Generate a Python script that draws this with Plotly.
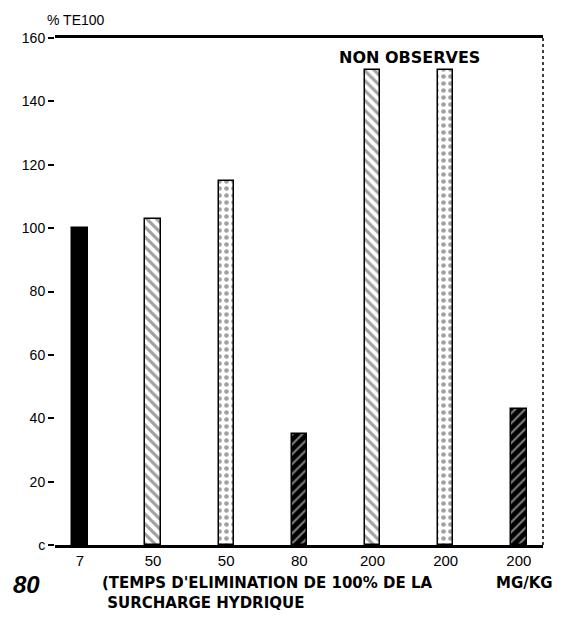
import plotly.graph_objects as go

# Data
categories = ["7", "50", "50", "80", "200", "200", "200"]
values = [100, 103, 115, 35, 150, 150, 43]
pattern_shapes = ["", "\\", ".", "/", "\\", ".", "/"]
fill_colors = ["black", "white", "white", "black", "white", "white", "black"]
pattern_fg = ["black", "black", "black", "white", "black", "black", "white"]
pattern_solidity = [0.5, 0.45, 0.35, 0.3, 0.45, 0.35, 0.3]
y_ticks = [0, 20, 40, 60, 80, 100, 120, 140, 160]
y_ticklabels = ["c", "20", "40", "60", "80", "100", "120", "140", "160"]

x_pos = list(range(len(categories)))

fig = go.Figure()
fig.add_trace(go.Bar(
    x=x_pos,
    y=values,
    width=0.21,
    marker=dict(
        color=fill_colors,
        line=dict(color="black", width=1.5),
        pattern=dict(
            shape=pattern_shapes,
            fgcolor=pattern_fg,
            bgcolor=fill_colors,
            size=7,
            solidity=pattern_solidity,
        ),
    ),
    showlegend=False,
))

font_main = "Liberation Sans, Arial, sans-serif"
font_bold = "DejaVu Sans, Liberation Sans, sans-serif"

fig.update_layout(
    width=550,
    height=603,
    margin=dict(l=47, r=15, t=30, b=66),
    paper_bgcolor="white",
    plot_bgcolor="white",
    font=dict(family=font_main, color="black", size=13),
    bargap=0,
)

fig.update_xaxes(
    range=[-0.34, 6.33],
    tickmode="array",
    tickvals=x_pos,
    ticktext=categories,
    ticks="",
    showgrid=False,
    zeroline=False,
    showline=True,
    linecolor="black",
    linewidth=3,
    mirror=True,
    tickfont=dict(size=15, family=font_main, color="black"),
)
fig.update_yaxes(
    range=[0, 160],
    tickmode="array",
    tickvals=y_ticks,
    ticktext=y_ticklabels,
    ticks="outside",
    ticklen=6,
    tickwidth=2,
    tickcolor="black",
    showgrid=False,
    zeroline=False,
    showline=False,
    tickfont=dict(size=14, family=font_main, color="black"),
)

# dashed right frame line
fig.add_shape(type="line", xref="paper", yref="paper", x0=1, x1=1, y0=0, y1=1,
              line=dict(color="black", width=1.5, dash="dot"))

fig.add_annotation(text="% TE100", xref="paper", yref="paper", x=0, y=1.0,
                   xanchor="left", yanchor="bottom", yshift=8, xshift=-10, showarrow=False,
                   font=dict(size=14, family=font_main, color="black"))
fig.add_annotation(text="<b>NON OBSERVES</b>", xref="x", yref="y", x=4.5, y=157.5,
                   xanchor="center", yanchor="top", showarrow=False,
                   font=dict(size=16, family=font_bold, color="black"))
fig.add_annotation(text="<b><i>80</i></b>", xref="paper", yref="paper", x=0, y=0,
                   xanchor="left", yanchor="top", yshift=-24, xshift=-44, showarrow=False,
                   font=dict(size=24, family=font_main, color="black"))
fig.add_annotation(text="<b>(TEMPS D'ELIMINATION DE 100% DE LA<br> SURCHARGE HYDRIQUE</b>",
                   xref="paper", yref="paper", x=0, y=0, align="left",
                   xanchor="left", yanchor="top", yshift=-27, xshift=45, showarrow=False,
                   font=dict(size=15, family=font_bold, color="black"))
fig.add_annotation(text="<b>MG/KG</b>", xref="paper", yref="paper", x=1, y=0,
                   xanchor="right", yanchor="top", yshift=-27, xshift=12, showarrow=False,
                   font=dict(size=15, family=font_bold, color="black"))

fig.write_html("out.html")
